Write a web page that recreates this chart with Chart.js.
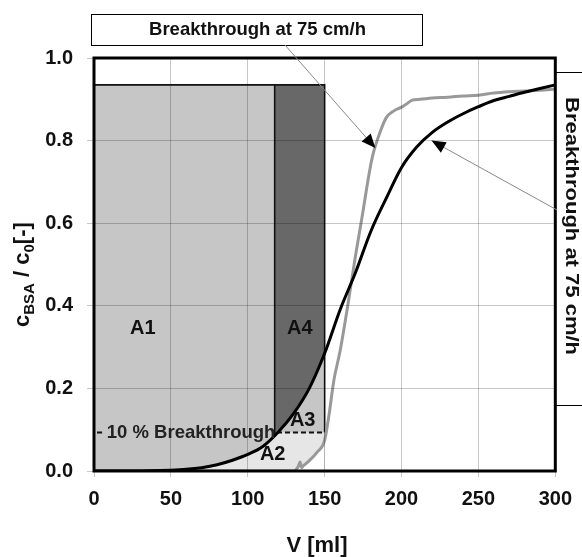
<!DOCTYPE html>
<html>
<head>
<script src="https://cdn.jsdelivr.net/npm/chart.js@4.4.1/dist/chart.umd.min.js"></script>
<style>
body { margin: 0; background: #fff; }
</style>
</head>
<body>
<canvas id="chart" width="582" height="557"></canvas>
<script>
// axis ticks
var xTicks = [0, 50, 100, 150, 200, 250, 300];
var yTicks = [0, 0.2, 0.4, 0.6, 0.8, 1.0];

// black breakthrough curve (V in ml, c/c0)
var blackV = [0, 25, 50, 60, 70, 80, 90, 100, 110, 120, 130, 140, 150, 160, 170, 180, 190, 200, 210, 220, 230, 240, 250, 260, 270, 280, 290, 300];
var blackC = [0, 0, 0.002, 0.004, 0.008, 0.015, 0.026, 0.04, 0.06, 0.095, 0.14, 0.2, 0.285, 0.39, 0.48, 0.58, 0.66, 0.735, 0.785, 0.82, 0.845, 0.865, 0.882, 0.897, 0.907, 0.917, 0.926, 0.935];

// grey breakthrough curve
var grayV = [0, 100, 130, 133, 134, 135, 136, 140, 145, 150, 153, 156, 160, 165, 170, 175, 178, 181, 186, 190, 195, 200, 203, 207, 212, 220, 230, 240, 250, 260, 270, 280, 290, 300];
var grayC = [0, 0, 0, 0.012, 0.022, 0.008, 0.012, 0.025, 0.045, 0.075, 0.14, 0.22, 0.29, 0.4, 0.52, 0.63, 0.7, 0.76, 0.82, 0.855, 0.872, 0.881, 0.888, 0.898, 0.9, 0.903, 0.905, 0.908, 0.91, 0.915, 0.918, 0.92, 0.922, 0.925];

// shaded areas A1..A4
var plateau = 0.935;
var cutV = 117.5;
var endV = 150;
var tenPct = 0.093;
var dashStart = 2;
var dashGap = [7, 119];

var FONT = 'Arial, "Liberation Sans", sans-serif';

// labels inside the plot (data coordinates)
var areaLabels = [
  { text: 'A1', v: 31.8, c: 0.346 },
  { text: 'A4', v: 133.8, c: 0.346 },
  { text: 'A3', v: 135.7, c: 0.123 },
  { text: 'A2', v: 116.2, c: 0.039 }
];
var arrowTips = [
  { v: 183, c: 0.782, fromX: 285, fromY: 45 },
  { v: 219.5, c: 0.80, fromX: 557, fromY: 210 }
];

function pts(vs, cs, lo, hi) {
  var out = [];
  for (var i = 0; i < vs.length; i++) {
    if (vs[i] >= lo && vs[i] <= hi) out.push({ x: vs[i], y: cs[i] });
  }
  return out;
}
function blackAt(v) {
  for (var i = 1; i < blackV.length; i++) {
    if (v <= blackV[i]) {
      var t = (v - blackV[i - 1]) / (blackV[i] - blackV[i - 1]);
      return blackC[i - 1] + t * (blackC[i] - blackC[i - 1]);
    }
  }
  return blackC[blackC.length - 1];
}

var a2Top = pts(blackV, blackC, 0, endV).map(function (p) { return { x: p.x, y: Math.min(p.y, tenPct) }; });

var fillOnly = { borderWidth: 0, borderColor: 'transparent', pointRadius: 0, cubicInterpolationMode: 'monotone' };
function ds(extra) { return Object.assign({}, fillOnly, extra); }

var datasets = [
  { data: pts(blackV, blackC, 0, 300), borderColor: '#000', borderWidth: 3, pointRadius: 0, fill: false, cubicInterpolationMode: 'monotone', order: 0 },
  { data: pts(grayV, grayC, 0, 300), borderColor: '#999', borderWidth: 3, pointRadius: 0, fill: false, cubicInterpolationMode: 'monotone', order: 1 },
  // outline of A1/A4
  { data: [{ x: cutV, y: blackAt(cutV) }, { x: cutV, y: plateau }, { x: 0, y: plateau }, { x: endV, y: plateau }, { x: endV, y: tenPct }],
    borderColor: '#111', borderWidth: 1.6, pointRadius: 0, fill: false, tension: 0, order: 2 },
  // 10 % line
  { data: [{ x: dashStart, y: tenPct }, { x: dashGap[0], y: tenPct }, { x: dashGap[0] + 1, y: null }, { x: dashGap[1], y: tenPct }, { x: endV, y: tenPct }],
    borderColor: '#111', borderWidth: 2, borderDash: [5, 3], pointRadius: 0, fill: false, spanGaps: false, tension: 0, order: 3 },
  // white below grey curve
  ds({ data: pts(grayV, grayC, 128, endV), fill: 'origin', backgroundColor: '#fff', order: 4 }),
  // A2
  ds({ data: a2Top, fill: 'origin', backgroundColor: '#e6e6e6', order: 5 }),
  // A3
  ds({ data: pts(blackV, blackC, 110, endV), fill: 'origin', backgroundColor: '#c6c6c6', order: 6 }),
  // A4
  ds({ data: [{ x: cutV, y: plateau }, { x: endV, y: plateau }], fill: 'origin', backgroundColor: '#686868', tension: 0, order: 7 }),
  // A1
  ds({ data: [{ x: 0, y: plateau }, { x: cutV, y: plateau }], fill: 'origin', backgroundColor: '#c6c6c6', tension: 0, order: 8 })
];

function arrowHead(ctx, x0, y0, x1, y1) {
  var ang = Math.atan2(y1 - y0, x1 - x0), len = 14, hw = 6;
  ctx.beginPath();
  ctx.moveTo(x1, y1);
  ctx.lineTo(x1 - len * Math.cos(ang) + hw * Math.sin(ang), y1 - len * Math.sin(ang) - hw * Math.cos(ang));
  ctx.lineTo(x1 - len * Math.cos(ang) - hw * Math.sin(ang), y1 - len * Math.sin(ang) + hw * Math.cos(ang));
  ctx.closePath();
  ctx.fill();
}

var extras = {
  id: 'extras',
  afterDraw: function (chart) {
    var ctx = chart.ctx, a = chart.chartArea, xs = chart.scales.x, ys = chart.scales.y;
    ctx.save();

    // frame
    ctx.strokeStyle = '#000';
    ctx.lineWidth = 3;
    ctx.strokeRect(a.left, a.top, a.right - a.left, a.bottom - a.top);

    // area labels
    ctx.fillStyle = '#111';
    ctx.font = 'bold 20px ' + FONT;
    ctx.textAlign = 'center';
    ctx.textBaseline = 'middle';
    areaLabels.forEach(function (l) {
      ctx.fillText(l.text, xs.getPixelForValue(l.v), ys.getPixelForValue(l.c));
    });

    ctx.textAlign = 'left';
    ctx.font = 'bold 18.5px ' + FONT;
    ctx.fillStyle = '#222';
    ctx.fillText('10 % Breakthrough', xs.getPixelForValue(dashGap[0]) + 2, ys.getPixelForValue(tenPct));

    // top text box
    ctx.fillStyle = '#fff';
    ctx.strokeStyle = '#000';
    ctx.lineWidth = 1;
    ctx.fillRect(a.left - 2, 14, 331, 31);
    ctx.strokeRect(a.left - 2.5, 14.5, 331, 31);
    ctx.fillStyle = '#111';
    ctx.font = 'bold 18.5px ' + FONT;
    ctx.textAlign = 'center';
    ctx.fillText('Breakthrough at 75 cm/h', a.left + 163.5, 30);

    // right text box
    ctx.beginPath();
    ctx.moveTo(a.right, 72.5); ctx.lineTo(582, 72.5);
    ctx.moveTo(a.right, 405.5); ctx.lineTo(582, 405.5);
    ctx.stroke();
    ctx.save();
    ctx.translate(571, 226);
    ctx.rotate(Math.PI / 2);
    var w = ctx.measureText('Breakthrough at 75 cm/h').width;
    ctx.scale(258 / w, 1);
    ctx.fillText('Breakthrough at 75 cm/h', 0, 0);
    ctx.restore();

    // leader lines with arrows
    arrowTips.forEach(function (t) {
      var tx = xs.getPixelForValue(t.v), ty = ys.getPixelForValue(t.c);
      ctx.strokeStyle = '#888';
      ctx.lineWidth = 1;
      ctx.beginPath();
      ctx.moveTo(t.fromX, t.fromY);
      ctx.lineTo(tx, ty);
      ctx.stroke();
      ctx.fillStyle = '#000';
      arrowHead(ctx, t.fromX, t.fromY, tx, ty);
    });

    // x axis title
    ctx.fillStyle = '#111';
    ctx.font = 'bold 22px ' + FONT;
    ctx.textAlign = 'center';
    ctx.textBaseline = 'middle';
    ctx.fillText('V [ml]', 317, 546);

    // y axis title with subscripts
    ctx.save();
    ctx.translate(29, 327);
    ctx.rotate(-Math.PI / 2);
    ctx.textAlign = 'left';
    ctx.textBaseline = 'alphabetic';
    var parts = [['c', 22, 0], ['BSA', 15, 5], [' / c', 22, 0], ['0', 15, 5], ['[-]', 22, 0]];
    var px = 0;
    parts.forEach(function (p) {
      ctx.font = 'bold ' + p[1] + 'px ' + FONT;
      ctx.fillText(p[0], px, p[2]);
      px += ctx.measureText(p[0]).width;
    });
    ctx.restore();

    ctx.restore();
  }
};

new Chart(document.getElementById('chart'), {
  type: 'line',
  data: { datasets: datasets },
  options: {
    responsive: false,
    animation: false,
    layout: { padding: { top: 58, right: 26, left: 0, bottom: 0 } },
    plugins: { legend: { display: false }, tooltip: { enabled: false } },
    scales: {
      x: {
        type: 'linear', min: 0, max: 300,
        afterFit: function (s) { s.height = 86; },
        afterBuildTicks: function (s) { s.ticks = xTicks.map(function (v) { return { value: v }; }); },
        grid: { z: 1, color: 'rgba(0,0,0,0.22)', tickLength: 6 },
        border: { display: false },
        ticks: { color: '#111', padding: 10, font: { family: FONT, size: 20, weight: 'bold' }, maxRotation: 0 }
      },
      y: {
        min: 0, max: 1,
        afterFit: function (s) { s.width = 94; },
        afterBuildTicks: function (s) { s.ticks = yTicks.map(function (v) { return { value: v }; }); },
        grid: { z: 1, color: 'rgba(0,0,0,0.22)', tickLength: 7 },
        border: { display: false },
        ticks: { color: '#111', padding: 14, font: { family: FONT, size: 20, weight: 'bold' },
          callback: function (v) { return v.toFixed(1); } }
      }
    }
  },
  plugins: [extras]
});
</script>
</body>
</html>
